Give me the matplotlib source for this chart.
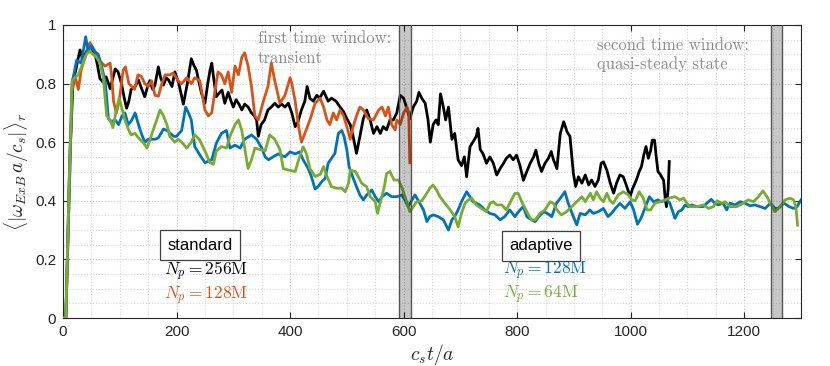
import numpy as np
import matplotlib
matplotlib.use("Agg")
import matplotlib.pyplot as plt

plt.rcParams['font.family'] = ['Liberation Sans', 'DejaVu Sans']
plt.rcParams['mathtext.fontset'] = 'cm'

# standard, Np=256M (black)
std256_t = [0, 5, 12, 18, 22, 26, 30, 35, 39, 44, 47.5, 53, 57, 61, 65, 70, 76, 83, 88, 92, 97, 103, 108, 112,
            116, 120, 127, 133, 139, 144, 149, 153, 158, 162, 168, 172, 177, 182, 186, 192, 197, 204, 212, 219,
            226, 231, 235, 240, 244, 250, 255, 259, 262, 266, 270, 276, 280, 285, 291, 296, 300, 305, 310, 315,
            320, 326, 332, 337, 341, 344, 349, 355, 361, 367, 373, 379, 385, 391, 397, 403, 409, 414, 420, 426,
            430, 435, 441, 447, 452, 459, 467, 473, 481, 488, 494, 500, 506, 511, 517, 523, 529, 535, 541, 547,
            553, 559, 564, 570, 576, 582, 588, 594, 600, 605, 611, 617, 623, 627, 632, 638, 643, 647, 652, 657,
            661, 665, 670, 674, 679, 685, 690, 696, 702, 707, 711, 717, 722, 728, 731, 735, 740, 746, 752, 758,
            764, 770, 776, 781, 787, 793, 799, 805, 811, 817, 823, 829, 833, 838, 843, 849, 855, 860, 864, 870,
            876, 882, 888, 893, 899, 903, 908, 914, 920, 926, 931, 937, 943, 948, 952, 958, 964, 970, 975, 981,
            987, 993, 999, 1003, 1010, 1015, 1019, 1023, 1027, 1031, 1035, 1038, 1042, 1045, 1048, 1052, 1058,
            1061, 1063, 1066, 1068]
std256_v = [0, 0.0, 0.55, 0.82, 0.84, 0.88, 0.915, 0.88, 0.90, 0.92, 0.937, 0.91, 0.897, 0.86, 0.817, 0.806,
            0.823, 0.783, 0.82, 0.85, 0.84, 0.80, 0.75, 0.716, 0.74, 0.78, 0.79, 0.812, 0.78, 0.755, 0.79, 0.81,
            0.78, 0.795, 0.857, 0.82, 0.795, 0.82, 0.812, 0.79, 0.84, 0.80, 0.73, 0.80, 0.885, 0.86, 0.846, 0.80,
            0.767, 0.733, 0.80, 0.846, 0.87, 0.81, 0.755, 0.77, 0.778, 0.733, 0.77, 0.74, 0.72, 0.745, 0.73, 0.71,
            0.73, 0.72, 0.70, 0.69, 0.676, 0.62, 0.66, 0.676, 0.71, 0.72, 0.733, 0.72, 0.73, 0.72, 0.733, 0.70,
            0.653, 0.67, 0.71, 0.74, 0.79, 0.75, 0.74, 0.76, 0.75, 0.774, 0.74, 0.75, 0.74, 0.72, 0.705, 0.68,
            0.66, 0.62, 0.562, 0.62, 0.68, 0.71, 0.676, 0.63, 0.653, 0.63, 0.653, 0.642, 0.676, 0.676, 0.70,
            0.76, 0.75, 0.72, 0.68, 0.72, 0.74, 0.77, 0.75, 0.733, 0.676, 0.60, 0.66, 0.676, 0.66, 0.765, 0.72,
            0.676, 0.72, 0.61, 0.63, 0.54, 0.52, 0.55, 0.482, 0.585, 0.60, 0.62, 0.647, 0.575, 0.56, 0.528,
            0.55, 0.528, 0.488, 0.51, 0.528, 0.545, 0.556, 0.54, 0.556, 0.52, 0.47, 0.50, 0.528, 0.55, 0.573,
            0.528, 0.50, 0.528, 0.545, 0.568, 0.54, 0.51, 0.63, 0.67, 0.635, 0.62, 0.494, 0.449, 0.482, 0.46,
            0.488, 0.454, 0.471, 0.449, 0.471, 0.528, 0.533, 0.505, 0.46, 0.426, 0.46, 0.488, 0.482, 0.449,
            0.414, 0.44, 0.471, 0.50, 0.517, 0.556, 0.585, 0.545, 0.57, 0.607, 0.607, 0.55, 0.50, 0.49, 0.47,
            0.403, 0.38, 0.44, 0.534]

# standard, Np=128M (orange)
std128_t = [0, 5, 12, 16, 22, 27, 32, 39, 47.5, 53, 59, 66, 74, 83, 86, 89, 94, 99, 106, 110, 116, 126, 132,
            138, 144, 150, 156, 162, 168, 174, 180, 188, 194, 203, 209, 218, 226, 232, 241, 250, 256, 262, 268,
            273, 279, 285, 291, 297, 303, 309, 315, 320, 326, 332, 338, 344, 353, 361, 367, 373, 382, 391, 400,
            403, 409, 415, 420, 426, 435, 444, 453, 459, 465, 470, 476, 482, 488, 494, 500, 506, 511, 517, 523,
            529, 538, 547, 556, 562, 568, 573, 579, 585, 588, 594, 600, 606, 609, 611]
std128_v = [0, 0.0, 0.5, 0.78, 0.82, 0.78, 0.846, 0.89, 0.94, 0.92, 0.90, 0.875, 0.86, 0.87, 0.82, 0.74, 0.70,
            0.74, 0.846, 0.857, 0.80, 0.78, 0.83, 0.825, 0.80, 0.79, 0.81, 0.76, 0.757, 0.80, 0.83, 0.83, 0.836,
            0.81, 0.80, 0.82, 0.80, 0.82, 0.81, 0.71, 0.69, 0.70, 0.78, 0.84, 0.83, 0.80, 0.84, 0.77, 0.86, 0.83,
            0.89, 0.905, 0.86, 0.79, 0.69, 0.676, 0.74, 0.79, 0.87, 0.81, 0.733, 0.76, 0.82, 0.80, 0.74, 0.653,
            0.60, 0.63, 0.676, 0.733, 0.75, 0.72, 0.676, 0.66, 0.70, 0.676, 0.71, 0.69, 0.653, 0.61, 0.653, 0.69,
            0.72, 0.71, 0.68, 0.676, 0.71, 0.72, 0.69, 0.72, 0.66, 0.642, 0.676, 0.66, 0.70, 0.72, 0.70, 0.53]

# adaptive, Np=128M (blue)
ada128_t = [0, 5, 12, 16, 24, 32, 40, 44, 50, 56, 62, 68, 74, 77, 80, 85, 92, 98, 104, 109, 115, 121, 127, 133,
            138, 144, 150, 156, 162, 168, 177, 183, 189, 195, 200, 209, 216, 221, 226, 232, 240, 250, 262, 270,
            279, 288, 294, 303, 312, 320, 332, 341, 350, 356, 362, 370, 379, 391, 400, 409, 417, 423, 432, 438,
            444, 450, 456, 462, 467, 473, 479, 485, 491, 495, 500, 504, 510, 517, 523, 529, 535, 544, 550, 556,
            562, 570, 579, 588, 597, 603, 608, 614, 620, 626, 635, 641, 646, 652, 661, 670, 679, 685, 690, 696,
            702, 711, 717, 722, 728, 734, 743, 752, 761, 770, 778, 787, 796, 805, 811, 817, 825, 832, 838, 847,
            853, 861, 869, 878, 884, 890, 899, 905, 911, 920, 928, 934, 943, 952, 960, 966, 973, 981, 990, 999,
            1005, 1012, 1018, 1026, 1033, 1040, 1048, 1054, 1063, 1069, 1075, 1078, 1084, 1090, 1096, 1101,
            1107, 1117, 1128, 1134, 1142, 1148, 1154, 1163, 1169, 1175, 1184, 1193, 1201, 1210, 1219, 1228,
            1237, 1246, 1254, 1260, 1270, 1279, 1287, 1293, 1300]
ada128_v = [0, 0.0, 0.5, 0.80, 0.88, 0.87, 0.96, 0.91, 0.93, 0.91, 0.90, 0.86, 0.81, 0.75, 0.68, 0.67, 0.676,
            0.66, 0.69, 0.70, 0.66, 0.675, 0.70, 0.66, 0.63, 0.60, 0.61, 0.61, 0.61, 0.615, 0.645, 0.64, 0.63,
            0.62, 0.62, 0.64, 0.72, 0.70, 0.676, 0.585, 0.56, 0.53, 0.54, 0.596, 0.63, 0.64, 0.58, 0.59, 0.58,
            0.61, 0.625, 0.61, 0.58, 0.55, 0.54, 0.55, 0.56, 0.55, 0.567, 0.56, 0.567, 0.54, 0.51, 0.48, 0.44,
            0.45, 0.466, 0.477, 0.528, 0.545, 0.562, 0.63, 0.64, 0.62, 0.574, 0.516, 0.483, 0.448, 0.42, 0.403,
            0.42, 0.437, 0.414, 0.397, 0.414, 0.426, 0.414, 0.414, 0.42, 0.40, 0.38, 0.40, 0.42, 0.40, 0.369,
            0.329, 0.346, 0.352, 0.346, 0.335, 0.30, 0.335, 0.346, 0.369, 0.397, 0.431, 0.414, 0.397, 0.392,
            0.386, 0.369, 0.357, 0.352, 0.335, 0.346, 0.369, 0.346, 0.369, 0.38, 0.346, 0.335, 0.329, 0.346,
            0.363, 0.357, 0.346, 0.391, 0.414, 0.431, 0.391, 0.346, 0.318, 0.357, 0.352, 0.369, 0.357, 0.363,
            0.374, 0.346, 0.357, 0.374, 0.391, 0.374, 0.397, 0.37, 0.32, 0.34, 0.38, 0.414, 0.397, 0.403, 0.397,
            0.403, 0.392, 0.357, 0.34, 0.363, 0.369, 0.386, 0.38, 0.386, 0.38, 0.38, 0.392, 0.405, 0.392, 0.386,
            0.392, 0.369, 0.392, 0.386, 0.397, 0.392, 0.383, 0.386, 0.38, 0.374, 0.392, 0.374, 0.374, 0.392,
            0.38, 0.374, 0.38, 0.403]

# adaptive, Np=64M (green)
ada64_t = [0, 5, 12, 16, 21, 27, 35, 41, 47, 53, 59, 65, 71, 77, 83, 88, 94, 99, 103, 109, 115, 120, 127, 135,
           141, 148, 155, 165, 171, 177, 183, 188, 197, 203, 209, 218, 226, 232, 240, 250, 259, 265, 270, 279,
           288, 294, 303, 309, 315, 320, 326, 332, 338, 347, 356, 364, 373, 382, 388, 397, 409, 415, 423, 429,
           435, 444, 453, 459, 465, 473, 482, 491, 497, 503, 506, 515, 520, 526, 535, 541, 550, 554, 560, 566,
           570, 576, 583, 591, 597, 603, 611, 617, 623, 632, 641, 646, 652, 658, 664, 673, 682, 690, 696, 702,
           708, 714, 720, 728, 737, 746, 752, 758, 764, 773, 781, 790, 796, 802, 808, 817, 825, 832, 840, 849,
           858, 864, 870, 878, 887, 896, 905, 914, 920, 929, 934, 940, 946, 952, 958, 963, 969, 978, 987, 996,
           1002, 1008, 1015, 1022, 1029, 1035, 1043, 1052, 1060, 1069, 1078, 1087, 1093, 1099, 1105, 1117,
           1128, 1137, 1146, 1152, 1161, 1166, 1175, 1187, 1198, 1207, 1216, 1225, 1233, 1240, 1246, 1254,
           1263, 1272, 1281, 1287, 1291, 1294]
ada64_v = [0, 0.0, 0.55, 0.81, 0.82, 0.83, 0.87, 0.90, 0.91, 0.90, 0.89, 0.87, 0.82, 0.69, 0.676, 0.65, 0.71,
           0.75, 0.72, 0.676, 0.645, 0.625, 0.63, 0.61, 0.60, 0.58, 0.62, 0.676, 0.71, 0.69, 0.66, 0.62, 0.60,
           0.61, 0.60, 0.58, 0.60, 0.625, 0.61, 0.57, 0.53, 0.525, 0.57, 0.585, 0.58, 0.62, 0.66, 0.676, 0.64,
           0.58, 0.51, 0.54, 0.58, 0.575, 0.57, 0.625, 0.61, 0.575, 0.51, 0.505, 0.50, 0.54, 0.584, 0.56, 0.51,
           0.483, 0.49, 0.517, 0.483, 0.448, 0.443, 0.443, 0.431, 0.46, 0.505, 0.50, 0.483, 0.46, 0.448, 0.414,
           0.397, 0.357, 0.403, 0.448, 0.493, 0.50, 0.471, 0.471, 0.445, 0.41, 0.363, 0.38, 0.397, 0.40, 0.426,
           0.443, 0.454, 0.437, 0.414, 0.391, 0.369, 0.346, 0.311, 0.357, 0.391, 0.403, 0.409, 0.386, 0.374,
           0.363, 0.391, 0.397, 0.386, 0.386, 0.369, 0.403, 0.425, 0.425, 0.397, 0.363, 0.335, 0.335, 0.357,
           0.369, 0.397, 0.391, 0.369, 0.352, 0.363, 0.380, 0.397, 0.414, 0.397, 0.426, 0.403, 0.431, 0.409,
           0.397, 0.426, 0.403, 0.391, 0.420, 0.431, 0.420, 0.403, 0.40, 0.431, 0.41, 0.369, 0.369, 0.392,
           0.397, 0.403, 0.41, 0.414, 0.403, 0.409, 0.392, 0.380, 0.380, 0.386, 0.374, 0.380, 0.400, 0.392,
           0.397, 0.380, 0.380, 0.392, 0.403, 0.397, 0.414, 0.434, 0.414, 0.392, 0.363, 0.38, 0.403, 0.409,
           0.403, 0.38, 0.317]

windows = [(592, 613), (1247, 1266)]

c_black = '#000000'
c_orange = '#D95319'
c_blue = '#0072BD'
c_green = '#77AC30'
gray_txt = '#8c8c8c'

fig = plt.figure(figsize=(8.3, 3.66), dpi=100)
ax = fig.add_axes([63/830, 1-318/366, 738/830, 293/366])

lw = 2.0
ax.plot(std256_t, std256_v, color=c_black, lw=lw, zorder=3)
ax.plot(std128_t, std128_v, color=c_orange, lw=lw, zorder=3)
ax.plot(ada128_t, ada128_v, color=c_blue, lw=lw, zorder=3)
ax.plot(ada64_t, ada64_v, color=c_green, lw=lw, zorder=3)

for a, b in windows:
    ax.axvspan(a, b, facecolor='k', alpha=0.22, edgecolor='none', zorder=4)
    ax.axvline(a, color='#555555', lw=1.0, zorder=4)
    ax.axvline(b, color='#555555', lw=1.0, zorder=4)

ax.set_xlim(0, 1300)
ax.set_ylim(0, 1)
ax.set_xticks(np.arange(0, 1300, 200))
ax.set_yticks(np.arange(0, 1.01, 0.2))
ax.set_yticklabels(['0', '0.2', '0.4', '0.6', '0.8', '1'])
ax.set_xticks(np.arange(0, 1301, 50), minor=True)
ax.set_yticks(np.arange(0, 1.001, 0.05), minor=True)
ax.grid(which='major', color='#c8c8c8', ls=':', lw=0.8)
ax.grid(which='minor', color='#d8d8d8', ls=':', lw=0.8)
ax.set_axisbelow(True)
ax.tick_params(which='major', direction='in', length=4, width=0.8, color='#262626',
               top=True, right=True, labelsize=11, labelcolor='#262626', pad=5)
ax.tick_params(which='minor', length=0)
for sp in ax.spines.values():
    sp.set_color('#262626')
    sp.set_linewidth(0.8)

ax.set_xlabel(r'$c_s t/a$', fontsize=14, color='#262626', labelpad=2)
ax.set_ylabel(r'$\langle|\omega_{ExB}\, a/c_s|\rangle_r$', fontsize=14, color='#262626', labelpad=3)

# annotations
ax.text(343, 0.956, 'first time window:', fontname='cmr10', fontsize=12, color=gray_txt, va='center')
ax.text(343, 0.887, 'transient', fontname='cmr10', fontsize=12, color=gray_txt, va='center')
ax.text(941, 0.932, 'second time window:', fontname='cmr10', fontsize=12, color=gray_txt, va='center')
ax.text(941, 0.867, 'quasi-steady state', fontname='cmr10', fontsize=12, color=gray_txt, va='center')

box = dict(boxstyle='square,pad=0.45', facecolor='white', edgecolor='#404040', lw=0.9)
ax.text(241, 0.249, 'standard', fontsize=12, ha='center', va='center', bbox=box, zorder=6)
ax.text(842, 0.246, 'adaptive', fontsize=12, ha='center', va='center', bbox=box, zorder=6)

ax.text(178, 0.160, r'$N_p = 256\mathrm{M}$', fontsize=12.5, color=c_black, va='center')
ax.text(178, 0.075, r'$N_p = 128\mathrm{M}$', fontsize=12.5, color=c_orange, va='center')
ax.text(775, 0.160, r'$N_p = 128\mathrm{M}$', fontsize=12.5, color=c_blue, va='center')
ax.text(775, 0.078, r'$N_p = 64\mathrm{M}$', fontsize=12.5, color=c_green, va='center')

fig.savefig('out.png', dpi=100)
